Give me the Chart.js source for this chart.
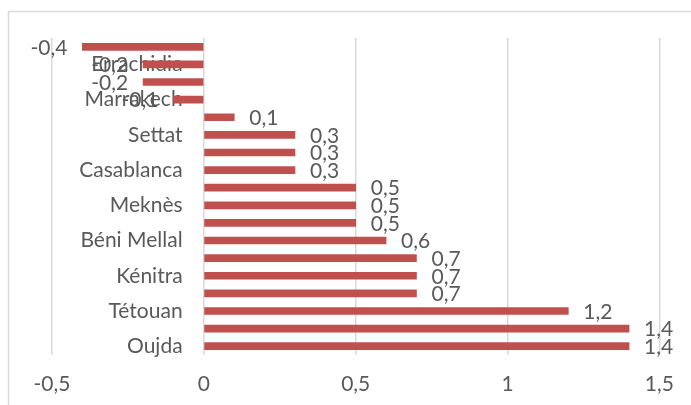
<!DOCTYPE html>
<html>
<head>
<meta charset="utf-8">
<script src="https://cdn.jsdelivr.net/npm/chart.js@4/dist/chart.umd.min.js"></script>
<style>
	html, body { margin: 0; padding: 0; background: #fff; }
	#wrap { width: 691px; height: 405px; position: relative; }
</style>
</head>
<body>
<div id="wrap"><canvas id="canvas"></canvas></div>
<script>
// top to bottom, as in the picture; only every other category name is printed there
const categories = ['', 'Errachidia', '', 'Marrakech', '', 'Settat', '', 'Casablanca', '', 'Meknès',
	'', 'Béni Mellal', '', 'Kénitra', '', 'Tétouan', '', 'Oujda'];
const values = [-0.4, -0.2, -0.2, -0.1, 0.1, 0.3, 0.3, 0.3, 0.5, 0.5, 0.5, 0.6, 0.7, 0.7, 0.7, 1.2, 1.4, 1.4];
const xTicks = [-0.5, 0, 0.5, 1, 1.5];

(() => {
	const FONT = 'Lato, "Liberation Sans", Arial, sans-serif';
	const TEXT = '#595959';
	const fmt = v => String(v).replace('.', ',');

	// Excel-like frame around the chart (cropped on right and bottom)
	const framePlugin = {
		id: 'frame',
		beforeDraw(c) {
			const { ctx } = c;
			ctx.save();
			ctx.strokeStyle = '#d9d9d9';
			ctx.lineWidth = 1.5;
			ctx.strokeRect(8.5, 11.5, 800, 500);
			ctx.restore();
		}
	};

	const valueLabels = {
		id: 'valueLabels',
		afterDatasetsDraw(c) {
			const { ctx } = c;
			const meta = c.getDatasetMeta(0);
			ctx.save();
			ctx.fillStyle = TEXT;
			ctx.font = '21px ' + FONT;
			ctx.textBaseline = 'middle';
			meta.data.forEach((bar, i) => {
				const v = values[i];
				const { x, y } = bar.getProps(['x', 'y'], true);
				ctx.textAlign = v < 0 ? 'right' : 'left';
				ctx.fillText(fmt(v), v < 0 ? x - 15 : x + 15, y + 1);
			});
			ctx.restore();
		}
	};

	new Chart(document.getElementById('canvas'), {
		type: 'bar',
		data: {
			labels: categories,
			datasets: [{
				data: values,
				backgroundColor: '#C0504D',
				barThickness: 7,
				borderWidth: 0
			}]
		},
		options: {
			indexAxis: 'y',
			responsive: true,
			maintainAspectRatio: false,
			animation: false,
			layout: { padding: { left: 52, right: 31, top: 38, bottom: 0 } },
			plugins: { legend: { display: false }, tooltip: { enabled: false } },
			scales: {
				x: {
					min: -0.5,
					max: 1.5,
					afterBuildTicks: s => { s.ticks = xTicks.map(v => ({ value: v })); },
					afterFit: s => { s.height = 50; },
					grid: { color: '#d9d9d9', lineWidth: 1.5, drawTicks: false },
					border: { display: false },
					ticks: {
						color: TEXT,
						font: { family: FONT, size: 21 },
						padding: 17,
						callback: v => fmt(v)
					}
				},
				y: {
					// padding is ignored for a value-anchored axis, so anchor a bit left of 0
					position: { x: -0.07 },
					grid: { display: false },
					border: { display: false },
					ticks: {
						autoSkip: false,
						color: TEXT,
						font: { family: FONT, size: 21 }
					}
				}
			}
		},
		plugins: [framePlugin, valueLabels]
	});
})();
</script>
</body>
</html>
